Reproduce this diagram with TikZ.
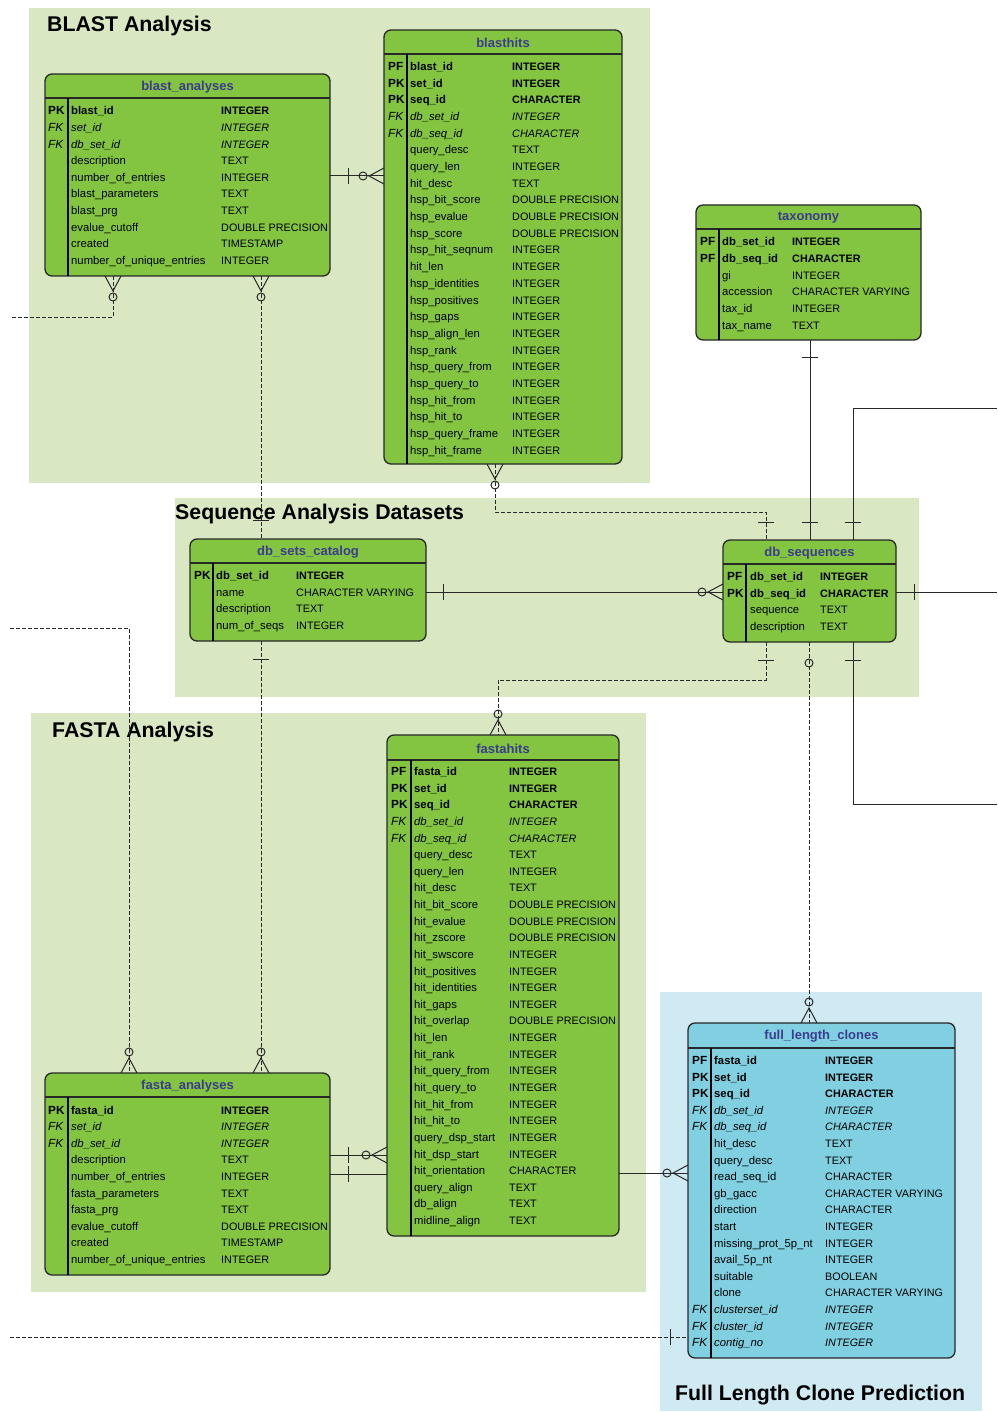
\documentclass[tikz,border=0pt]{standalone}
\usepackage{fontspec}
\setmainfont{Liberation Sans}
\definecolor{grpgreen}{RGB}{217,232,195}
\definecolor{grpblue}{RGB}{207,234,242}
\definecolor{tgreen}{RGB}{131,196,65}
\definecolor{tblue}{RGB}{128,208,225}
\definecolor{ttlc}{RGB}{60,60,140}
\definecolor{lnc}{RGB}{40,40,40}
\newcommand\fnm{\fontsize{11.3}{13}\selectfont}
\newcommand\fty{\fontsize{10.8}{13}\selectfont}
\newcommand\fky{\fontsize{11.8}{13}\selectfont}
\tikzset{
  grp/.style={fill=#1,draw=none},
  grpttl/.style={anchor=base west,inner sep=0,font=\fontsize{21.3}{24}\selectfont\bfseries},
  tbox/.style={draw=lnc,line width=1.3pt,rounded corners=7pt,inner sep=0,outer sep=0},
  hdr/.style={draw=lnc,line width=1.3pt},
  divl/.style={draw=black,line width=2pt},
  ttl/.style={inner sep=0,font=\fontsize{13}{14}\selectfont\bfseries,text=ttlc},
  cell/.style={anchor=base west,inner sep=0},
  conn/.style={draw=lnc,line width=1pt},
  dconn/.style={draw=lnc,line width=1pt,dash pattern=on 4pt off 2pt},
}
% table: name, x1,y1,x2,y2, title, divider x, header line y, fill
\newcommand\mktable[9]{%
  \node[tbox,fill=#9,minimum width={(#4-#2)*1pt},minimum height={(#5-#3)*1pt}] (#1) at ({(#2+#4)/2},{(#3+#5)/2}) {};
  \draw[hdr] (#2,#8) -- (#4,#8);
  \draw[divl] (#7,#8) -- (#7,#5);
  \node[ttl] (#1-title) at ({(#2+#4)/2},{(#3+#8)/2+1}) {#6};
}
\newcommand\rowb[4]{%
  \pgfmathsetmacro\ry{\ya+(#1)*\dy+4}
  \node[cell,font=\fky\bfseries] (\tn-k#1) at (\kx,\ry) {#2};
  \node[cell,font=\fnm\bfseries] (\tn-n#1) at (\nx,\ry) {#3};
  \node[cell,font=\fty\bfseries] (\tn-y#1) at (\tx,\ry) {#4};}
\newcommand\rowi[4]{%
  \pgfmathsetmacro\ry{\ya+(#1)*\dy+4}
  \node[cell,font=\fky\itshape] (\tn-k#1) at (\kx,\ry) {#2};
  \node[cell,font=\fnm\itshape] (\tn-n#1) at (\nx,\ry) {#3};
  \node[cell,font=\fty\itshape] (\tn-y#1) at (\tx,\ry) {#4};}
\newcommand\rown[3]{%
  \pgfmathsetmacro\ry{\ya+(#1)*\dy+4}
  \node[cell,font=\fnm] (\tn-n#1) at (\nx,\ry) {#2};
  \node[cell,font=\fty] (\tn-y#1) at (\tx,\ry) {#3};}
\newcommand\settbl[6]{\def\tn{#1}\def\ya{#2}\def\dy{#3}\def\kx{#4}\def\nx{#5}\def\tx{#6}}
% marks: point x,y ; outward direction dx,dy
\newcommand\crowft[4]{%
  \draw[conn] ({#1-8*(#4)},{#2+8*(#3)}) -- ({#1+15*(#3)},{#2+15*(#4)}) -- ({#1+8*(#4)},{#2-8*(#3)});
  \draw[conn] ({#1+21*(#3)},{#2+21*(#4)}) circle[radius=4pt];}
\newcommand\tickm[5]{%
  \draw[conn] ({#1+(#5)*(#3)-8*(#4)},{#2+(#5)*(#4)+8*(#3)}) -- ({#1+(#5)*(#3)+8*(#4)},{#2+(#5)*(#4)-8*(#3)});}
\newcommand\circm[5]{%
  \draw[conn] ({#1+(#5)*(#3)},{#2+(#5)*(#4)}) circle[radius=4pt];}
\begin{document}
\begin{tikzpicture}[x=1pt,y=-1pt]
\useasboundingbox (0,0) rectangle (997,1412);
\fill[white] (0,0) rectangle (997,1412);
% groups
\fill[grpgreen] (29,8) rectangle (650,483);
\fill[grpgreen] (175,498) rectangle (919,697);
\fill[grpgreen] (31,713) rectangle (646,1292);
\fill[grpblue] (660,992) rectangle (982,1411);
\node[grpttl] (g1) at (47,31.5) {BLAST Analysis};
\node[grpttl] (g2) at (175,519.5) {Sequence Analysis Datasets};
\node[grpttl] (g3) at (52,737.5) {FASTA Analysis};
\node[grpttl] (g4) at (675,1400.5) {Full Length Clone Prediction};

% blast_analyses
\mktable{ba}{45}{74}{330}{276}{blast\_analyses}{68}{98}{tgreen}
\settbl{ba}{111}{16.6}{48}{71}{221}
\rowb{0}{PK}{blast\_id}{INTEGER}
\rowi{1}{FK}{set\_id}{INTEGER}
\rowi{2}{FK}{db\_set\_id}{INTEGER}
\rown{3}{description}{TEXT}
\rown{4}{number\_of\_entries}{INTEGER}
\rown{5}{blast\_parameters}{TEXT}
\rown{6}{blast\_prg}{TEXT}
\rown{7}{evalue\_cutoff}{DOUBLE PRECISION}
\rown{8}{created}{TIMESTAMP}
\rown{9}{number\_of\_unique\_entries}{INTEGER}

% blasthits
\mktable{bh}{384}{30}{622}{464}{blasthits}{407}{54}{tgreen}
\settbl{bh}{66.5}{16.68}{388}{410}{512}
\rowb{0}{PF}{blast\_id}{INTEGER}
\rowb{1}{PK}{set\_id}{INTEGER}
\rowb{2}{PK}{seq\_id}{CHARACTER}
\rowi{3}{FK}{db\_set\_id}{INTEGER}
\rowi{4}{FK}{db\_seq\_id}{CHARACTER}
\rown{5}{query\_desc}{TEXT}
\rown{6}{query\_len}{INTEGER}
\rown{7}{hit\_desc}{TEXT}
\rown{8}{hsp\_bit\_score}{DOUBLE PRECISION}
\rown{9}{hsp\_evalue}{DOUBLE PRECISION}
\rown{10}{hsp\_score}{DOUBLE PRECISION}
\rown{11}{hsp\_hit\_seqnum}{INTEGER}
\rown{12}{hit\_len}{INTEGER}
\rown{13}{hsp\_identities}{INTEGER}
\rown{14}{hsp\_positives}{INTEGER}
\rown{15}{hsp\_gaps}{INTEGER}
\rown{16}{hsp\_align\_len}{INTEGER}
\rown{17}{hsp\_rank}{INTEGER}
\rown{18}{hsp\_query\_from}{INTEGER}
\rown{19}{hsp\_query\_to}{INTEGER}
\rown{20}{hsp\_hit\_from}{INTEGER}
\rown{21}{hsp\_hit\_to}{INTEGER}
\rown{22}{hsp\_query\_frame}{INTEGER}
\rown{23}{hsp\_hit\_frame}{INTEGER}

% taxonomy
\mktable{tx}{696}{205}{921}{340}{taxonomy}{719}{229}{tgreen}
\settbl{tx}{242}{16.6}{700}{722}{792}
\rowb{0}{PF}{db\_set\_id}{INTEGER}
\rowb{1}{PF}{db\_seq\_id}{CHARACTER}
\rown{2}{gi}{INTEGER}
\rown{3}{accession}{CHARACTER VARYING}
\rown{4}{tax\_id}{INTEGER}
\rown{5}{tax\_name}{TEXT}

% db_sets_catalog
\mktable{dsc}{190}{539}{426}{641}{db\_sets\_catalog}{213}{563}{tgreen}
\settbl{dsc}{575.5}{16.6}{194}{216}{296}
\rowb{0}{PK}{db\_set\_id}{INTEGER}
\rown{1}{name}{CHARACTER VARYING}
\rown{2}{description}{TEXT}
\rown{3}{num\_of\_seqs}{INTEGER}

% db_sequences
\mktable{ds}{723}{540}{896}{642}{db\_sequences}{746}{564}{tgreen}
\settbl{ds}{576.5}{16.6}{727}{750}{820}
\rowb{0}{PF}{db\_set\_id}{INTEGER}
\rowb{1}{PK}{db\_seq\_id}{CHARACTER}
\rown{2}{sequence}{TEXT}
\rown{3}{description}{TEXT}

% fastahits
\mktable{fh}{387}{735}{619}{1236}{fastahits}{411}{760}{tgreen}
\settbl{fh}{771.5}{16.63}{391}{414}{509}
\rowb{0}{PF}{fasta\_id}{INTEGER}
\rowb{1}{PK}{set\_id}{INTEGER}
\rowb{2}{PK}{seq\_id}{CHARACTER}
\rowi{3}{FK}{db\_set\_id}{INTEGER}
\rowi{4}{FK}{db\_seq\_id}{CHARACTER}
\rown{5}{query\_desc}{TEXT}
\rown{6}{query\_len}{INTEGER}
\rown{7}{hit\_desc}{TEXT}
\rown{8}{hit\_bit\_score}{DOUBLE PRECISION}
\rown{9}{hit\_evalue}{DOUBLE PRECISION}
\rown{10}{hit\_zscore}{DOUBLE PRECISION}
\rown{11}{hit\_swscore}{INTEGER}
\rown{12}{hit\_positives}{INTEGER}
\rown{13}{hit\_identities}{INTEGER}
\rown{14}{hit\_gaps}{INTEGER}
\rown{15}{hit\_overlap}{DOUBLE PRECISION}
\rown{16}{hit\_len}{INTEGER}
\rown{17}{hit\_rank}{INTEGER}
\rown{18}{hit\_query\_from}{INTEGER}
\rown{19}{hit\_query\_to}{INTEGER}
\rown{20}{hit\_hit\_from}{INTEGER}
\rown{21}{hit\_hit\_to}{INTEGER}
\rown{22}{query\_dsp\_start}{INTEGER}
\rown{23}{hit\_dsp\_start}{INTEGER}
\rown{24}{hit\_orientation}{CHARACTER}
\rown{25}{query\_align}{TEXT}
\rown{26}{db\_align}{TEXT}
\rown{27}{midline\_align}{TEXT}

% fasta_analyses
\mktable{fa}{45}{1073}{330}{1275}{fasta\_analyses}{68}{1097}{tgreen}
\settbl{fa}{1110}{16.6}{48}{71}{221}
\rowb{0}{PK}{fasta\_id}{INTEGER}
\rowi{1}{FK}{set\_id}{INTEGER}
\rowi{2}{FK}{db\_set\_id}{INTEGER}
\rown{3}{description}{TEXT}
\rown{4}{number\_of\_entries}{INTEGER}
\rown{5}{fasta\_parameters}{TEXT}
\rown{6}{fasta\_prg}{TEXT}
\rown{7}{evalue\_cutoff}{DOUBLE PRECISION}
\rown{8}{created}{TIMESTAMP}
\rown{9}{number\_of\_unique\_entries}{INTEGER}

% full_length_clones
\mktable{fl}{688}{1023}{955}{1358}{full\_length\_clones}{711}{1048}{tblue}
\settbl{fl}{1060.5}{16.6}{692}{714}{825}
\rowb{0}{PF}{fasta\_id}{INTEGER}
\rowb{1}{PK}{set\_id}{INTEGER}
\rowb{2}{PK}{seq\_id}{CHARACTER}
\rowi{3}{FK}{db\_set\_id}{INTEGER}
\rowi{4}{FK}{db\_seq\_id}{CHARACTER}
\rown{5}{hit\_desc}{TEXT}
\rown{6}{query\_desc}{TEXT}
\rown{7}{read\_seq\_id}{CHARACTER}
\rown{8}{gb\_gacc}{CHARACTER VARYING}
\rown{9}{direction}{CHARACTER}
\rown{10}{start}{INTEGER}
\rown{11}{missing\_prot\_5p\_nt}{INTEGER}
\rown{12}{avail\_5p\_nt}{INTEGER}
\rown{13}{suitable}{BOOLEAN}
\rown{14}{clone}{CHARACTER VARYING}
\rowi{15}{FK}{clusterset\_id}{INTEGER}
\rowi{16}{FK}{cluster\_id}{INTEGER}
\rowi{17}{FK}{contig\_no}{INTEGER}

% ---------- connector coordinates ----------
\coordinate (E1) at (10,317);
\coordinate (E2) at (10,628);
\coordinate (E3) at (997,408);
\coordinate (E4) at (997,592);
\coordinate (E5) at (997,804);
\coordinate (E6) at (10,1337);
\coordinate (X113) at (113,0);
\coordinate (X129) at (129,0);
\coordinate (X261) at (261,0);
\coordinate (X810) at (810,0);
\coordinate (X809) at (809,0);
\coordinate (Y176) at (0,176);
\coordinate (Y592) at (0,592);
\coordinate (Y1155) at (0,1155);
\coordinate (Y1174) at (0,1174);
\coordinate (Y1173) at (0,1173);
\coordinate (Y1337) at (0,1337);
\coordinate (b1) at (495,512);
\coordinate (b2) at (766,512);
\coordinate (b3) at (853,408);
\coordinate (b4) at (766,680);
\coordinate (b5) at (498,680);
\coordinate (b6) at (853,804);
\coordinate (b7) at (129,628);

% ---------- connectors ----------
\draw[conn] (ba.east |- Y176) -- (bh.west |- Y176);
\tickm{330}{176}{1}{0}{18}
\crowft{384}{176}{-1}{0}

\draw[dconn] (ba.south -| X113) |- (E1);
\crowft{113}{276}{0}{1}

\draw[dconn] (ba.south -| X261) -- (dsc.north -| X261);
\crowft{261}{276}{0}{1}
\tickm{261}{539}{0}{-1}{19}

\draw[dconn] (dsc.south -| X261) -- (fa.north -| X261);
\tickm{261}{641}{0}{1}{18}
\crowft{261}{1073}{0}{-1}

\draw[dconn] (E2) -- (b7) -- (fa.north -| b7);
\crowft{129}{1073}{0}{-1}

\draw[conn] (dsc.east |- Y592) -- (ds.west |- Y592);
\tickm{426}{592}{1}{0}{17}
\crowft{723}{592}{-1}{0}

\draw[dconn] (bh.south -| b1) -- (b1) -- (b2) -- (ds.north -| b2);
\crowft{495}{464}{0}{1}
\tickm{766}{540}{0}{-1}{18}

\draw[conn] (tx.south -| X810) -- (ds.north -| X810);
\tickm{810}{340}{0}{1}{17}
\tickm{810}{540}{0}{-1}{18}

\draw[conn] (ds.north -| b3) -- (b3) -- (E3);
\tickm{853}{540}{0}{-1}{18}

\draw[conn] (ds.east |- Y592) -- (E4);
\tickm{896}{592}{1}{0}{18}

\draw[dconn] (ds.south -| b4) -- (b4) -- (b5) -- (fh.north -| b5);
\tickm{766}{642}{0}{1}{18}
\crowft{498}{735}{0}{-1}

\draw[dconn] (ds.south -| X809) -- (fl.north -| X809);
\circm{809}{642}{0}{1}{21}
\crowft{809}{1023}{0}{-1}

\draw[conn] (ds.south -| b6) -- (b6) -- (E5);
\tickm{853}{642}{0}{1}{18}

\draw[conn] (fa.east |- Y1155) -- (fh.west |- Y1155);
\tickm{330}{1155}{1}{0}{18}
\crowft{387}{1155}{-1}{0}

\draw[conn] (fa.east |- Y1174) -- (fh.west |- Y1174);
\tickm{330}{1174}{1}{0}{18}

\draw[conn] (fh.east |- Y1173) -- (fl.west |- Y1173);
\crowft{688}{1173}{-1}{0}

\draw[dconn] (E6) -- (fl.west |- Y1337);
\tickm{688}{1337}{-1}{0}{18}
\end{tikzpicture}
\end{document}
